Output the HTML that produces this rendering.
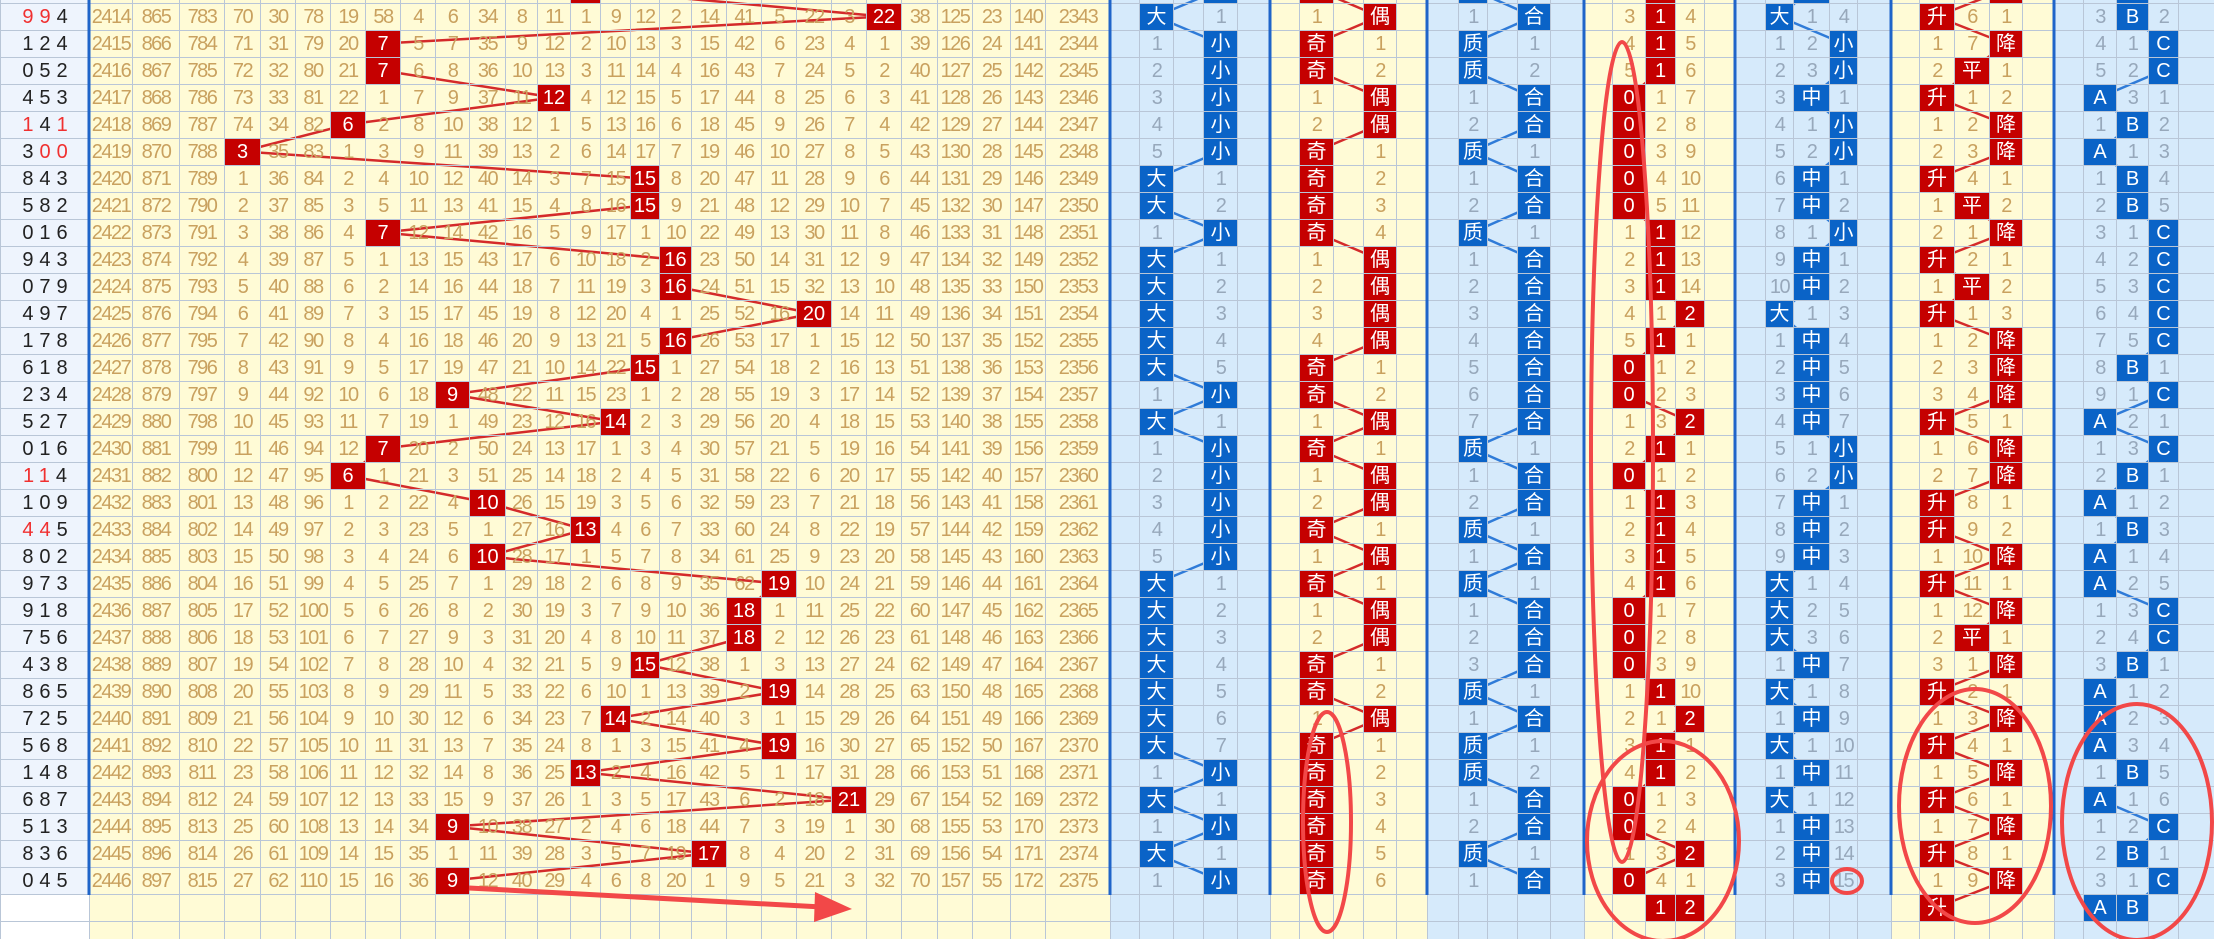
<!DOCTYPE html>
<html><head><meta charset="utf-8">
<style>
html,body{margin:0;padding:0;width:2214px;height:939px;overflow:hidden;background:#fff}
#wrap{position:relative;width:2214px;height:939px;overflow:hidden}
.bg{position:absolute;top:0;height:939px}
.y{background:#fffbd6}.u{background:#d6eafb}
table{position:absolute;left:0;top:-24px;border-collapse:collapse;table-layout:fixed;width:2214px;z-index:2;font-family:"Liberation Sans","Noto Sans CJK SC",sans-serif}
td{border:1px solid #b9c6d7;padding:0;height:26px;text-align:center;vertical-align:middle;font-size:20px;color:#c9a15f;letter-spacing:-1.5px;white-space:nowrap;overflow:hidden;line-height:26px}
tr{height:27px}
td.L{color:#222;letter-spacing:6px;font-size:20px;text-indent:6px}
td.L a{color:#f03030}
td:nth-child(n+30):nth-child(-n+34),td:nth-child(n+40):nth-child(-n+44),td:nth-child(n+50):nth-child(-n+54),td:nth-child(n+60):nth-child(-n+64){color:#97a8bb}
b,i{display:block;height:26px;line-height:26px;color:#fff;font-style:normal;font-weight:normal;letter-spacing:0}
b{background:#c50000}
i{background:#0a63c7}
svg{position:absolute;left:0;top:0}
</style></head><body><div id="wrap">
<div class="bg" style="left:0;width:89px;height:894px;background:#eef4fd"></div>
<div class="bg y" style="left:89px;width:1021px"></div>
<div class="bg u" style="left:1110px;width:160px"></div>
<div class="bg y" style="left:1270px;width:157px"></div>
<div class="bg u" style="left:1427px;width:157px"></div>
<div class="bg y" style="left:1584px;width:151px"></div>
<div class="bg u" style="left:1735px;width:156px"></div>
<div class="bg y" style="left:1891px;width:163px"></div>
<div class="bg u" style="left:2054px;width:160px"></div>
<svg width="2214" height="939" style="z-index:1" fill="none" stroke-width="2.5" stroke-linejoin="round">
<polyline stroke="#d42a2a" points="585,-10.5 883.5,16.5 382.5,43.5 382.5,70.5 553.5,97.5 347.5,124.5 242,151.5 644.5,178.5 644.5,205.5 382.5,232.5 675,259.5 675,286.5 813.5,313.5 675,340.5 644.5,367.5 452,394.5 615,421.5 382.5,448.5 347.5,475.5 487,502.5 585,529.5 487,556.5 778.5,583.5 743.5,610.5 743.5,637.5 644.5,664.5 778.5,691.5 615,718.5 778.5,745.5 585,772.5 848.5,799.5 452,826.5 708.5,853.5 452,880.5"/>
<polyline stroke="#2f7bd8" points="1220,-10.5 1156,16.5 1220,43.5 1220,70.5 1220,97.5 1220,124.5 1220,151.5 1156,178.5 1156,205.5 1220,232.5 1156,259.5 1156,286.5 1156,313.5 1156,340.5 1156,367.5 1220,394.5 1156,421.5 1220,448.5 1220,475.5 1220,502.5 1220,529.5 1220,556.5 1156,583.5 1156,610.5 1156,637.5 1156,664.5 1156,691.5 1156,718.5 1156,745.5 1220,772.5 1156,799.5 1220,826.5 1156,853.5 1220,880.5"/>
<polyline stroke="#d42a2a" points="1316,-10.5 1379.5,16.5 1316,43.5 1316,70.5 1379.5,97.5 1379.5,124.5 1316,151.5 1316,178.5 1316,205.5 1316,232.5 1379.5,259.5 1379.5,286.5 1379.5,313.5 1379.5,340.5 1316,367.5 1316,394.5 1379.5,421.5 1316,448.5 1379.5,475.5 1379.5,502.5 1316,529.5 1379.5,556.5 1316,583.5 1379.5,610.5 1379.5,637.5 1316,664.5 1316,691.5 1379.5,718.5 1316,745.5 1316,772.5 1316,799.5 1316,826.5 1316,853.5 1316,880.5"/>
<polyline stroke="#2f7bd8" points="1472.5,-10.5 1533.5,16.5 1472.5,43.5 1472.5,70.5 1533.5,97.5 1533.5,124.5 1472.5,151.5 1533.5,178.5 1533.5,205.5 1472.5,232.5 1533.5,259.5 1533.5,286.5 1533.5,313.5 1533.5,340.5 1533.5,367.5 1533.5,394.5 1533.5,421.5 1472.5,448.5 1533.5,475.5 1533.5,502.5 1472.5,529.5 1533.5,556.5 1472.5,583.5 1533.5,610.5 1533.5,637.5 1533.5,664.5 1472.5,691.5 1533.5,718.5 1472.5,745.5 1472.5,772.5 1533.5,799.5 1533.5,826.5 1472.5,853.5 1533.5,880.5"/>
<polyline stroke="#d42a2a" points="1660,-10.5 1660,16.5 1660,43.5 1660,70.5 1628.5,97.5 1628.5,124.5 1628.5,151.5 1628.5,178.5 1628.5,205.5 1660,232.5 1660,259.5 1660,286.5 1689.5,313.5 1660,340.5 1628.5,367.5 1628.5,394.5 1689.5,421.5 1660,448.5 1628.5,475.5 1660,502.5 1660,529.5 1660,556.5 1660,583.5 1628.5,610.5 1628.5,637.5 1628.5,664.5 1660,691.5 1689.5,718.5 1660,745.5 1660,772.5 1628.5,799.5 1628.5,826.5 1689.5,853.5 1628.5,880.5"/>
<polyline stroke="#2f7bd8" points="1811,-10.5 1779,16.5 1843,43.5 1843,70.5 1811,97.5 1843,124.5 1843,151.5 1811,178.5 1811,205.5 1843,232.5 1811,259.5 1811,286.5 1779,313.5 1811,340.5 1811,367.5 1811,394.5 1811,421.5 1843,448.5 1843,475.5 1811,502.5 1811,529.5 1811,556.5 1779,583.5 1779,610.5 1779,637.5 1811,664.5 1779,691.5 1811,718.5 1779,745.5 1811,772.5 1779,799.5 1811,826.5 1811,853.5 1811,880.5"/>
<polyline stroke="#d42a2a" points="2005.5,-10.5 1936.5,16.5 2005.5,43.5 1971.5,70.5 1936.5,97.5 2005.5,124.5 2005.5,151.5 1936.5,178.5 1971.5,205.5 2005.5,232.5 1936.5,259.5 1971.5,286.5 1936.5,313.5 2005.5,340.5 2005.5,367.5 2005.5,394.5 1936.5,421.5 2005.5,448.5 2005.5,475.5 1936.5,502.5 1936.5,529.5 2005.5,556.5 1936.5,583.5 2005.5,610.5 1971.5,637.5 2005.5,664.5 1936.5,691.5 2005.5,718.5 1936.5,745.5 2005.5,772.5 1936.5,799.5 2005.5,826.5 1936.5,853.5 2005.5,880.5 1936.5,907.5"/>
<polyline stroke="#2f7bd8" points="2132,-10.5 2132,16.5 2163,43.5 2163,70.5 2099.5,97.5 2132,124.5 2099.5,151.5 2132,178.5 2132,205.5 2163,232.5 2163,259.5 2163,286.5 2163,313.5 2163,340.5 2132,367.5 2163,394.5 2099.5,421.5 2163,448.5 2132,475.5 2099.5,502.5 2132,529.5 2099.5,556.5 2099.5,583.5 2163,610.5 2163,637.5 2132,664.5 2099.5,691.5 2099.5,718.5 2099.5,745.5 2132,772.5 2099.5,799.5 2163,826.5 2132,853.5 2163,880.5 2132,907.5"/>
</svg>
<table>
<colgroup><col style="width:89px"><col style="width:43px"><col style="width:47px"><col style="width:45px"><col style="width:36px"><col style="width:35px"><col style="width:35px"><col style="width:35px"><col style="width:35px"><col style="width:35px"><col style="width:34px"><col style="width:36px"><col style="width:32px"><col style="width:33px"><col style="width:30px"><col style="width:30px"><col style="width:29px"><col style="width:32px"><col style="width:35px"><col style="width:35px"><col style="width:35px"><col style="width:35px"><col style="width:35px"><col style="width:35px"><col style="width:36px"><col style="width:35px"><col style="width:38px"><col style="width:35px"><col style="width:65px"><col style="width:29px"><col style="width:34px"><col style="width:30px"><col style="width:34px"><col style="width:33px"><col style="width:29px"><col style="width:34px"><col style="width:30px"><col style="width:33px"><col style="width:31px"><col style="width:31px"><col style="width:29px"><col style="width:30px"><col style="width:33px"><col style="width:34px"><col style="width:28px"><col style="width:33px"><col style="width:30px"><col style="width:29px"><col style="width:31px"><col style="width:30px"><col style="width:28px"><col style="width:36px"><col style="width:28px"><col style="width:34px"><col style="width:28px"><col style="width:35px"><col style="width:35px"><col style="width:33px"><col style="width:32px"><col style="width:29px"><col style="width:33px"><col style="width:32px"><col style="width:30px"><col style="width:36px"></colgroup>
<tr><td class=L><td><td><td><td><td><td><td><td><td><td><td><td><td><td><b>&nbsp;</b><td><td><td><td><td><td><td><td><td><td><td><td><td><td><td><td><td><td><i>&nbsp;</i><td><td><td><b>&nbsp;</b><td><td><td><td><td><i>&nbsp;</i><td><td><td><td><td><td><b>&nbsp;</b><td><td><td><td><td><i>&nbsp;</i><td><td><td><td><td><td><b>&nbsp;</b><td><td><td><td><i>&nbsp;</i><td><td>
<tr><td class=L><a>9</a><a>9</a>4<td>2414<td>865<td>783<td>70<td>30<td>78<td>19<td>58<td>4<td>6<td>34<td>8<td>11<td>1<td>9<td>12<td>2<td>14<td>41<td>5<td>22<td>3<td><b>22</b><td>38<td>125<td>23<td>140<td>2343<td><td><i>大</i><td><td>1<td><td><td>1<td><td><b>偶</b><td><td><td>1<td><td><i>合</i><td><td><td>3<td><b>1</b><td>4<td><td><td><i>大</i><td>1<td>4<td><td><td><b>升</b><td>6<td>1<td><td><td>3<td><i>B</i><td>2<td>
<tr><td class=L>124<td>2415<td>866<td>784<td>71<td>31<td>79<td>20<td><b>7</b><td>5<td>7<td>35<td>9<td>12<td>2<td>10<td>13<td>3<td>15<td>42<td>6<td>23<td>4<td>1<td>39<td>126<td>24<td>141<td>2344<td><td>1<td><td><i>小</i><td><td><td><b>奇</b><td><td>1<td><td><td><i>质</i><td><td>1<td><td><td>4<td><b>1</b><td>5<td><td><td>1<td>2<td><i>小</i><td><td><td>1<td>7<td><b>降</b><td><td><td>4<td>1<td><i>C</i><td>
<tr><td class=L>052<td>2416<td>867<td>785<td>72<td>32<td>80<td>21<td><b>7</b><td>6<td>8<td>36<td>10<td>13<td>3<td>11<td>14<td>4<td>16<td>43<td>7<td>24<td>5<td>2<td>40<td>127<td>25<td>142<td>2345<td><td>2<td><td><i>小</i><td><td><td><b>奇</b><td><td>2<td><td><td><i>质</i><td><td>2<td><td><td>5<td><b>1</b><td>6<td><td><td>2<td>3<td><i>小</i><td><td><td>2<td><b>平</b><td>1<td><td><td>5<td>2<td><i>C</i><td>
<tr><td class=L>453<td>2417<td>868<td>786<td>73<td>33<td>81<td>22<td>1<td>7<td>9<td>37<td>11<td><b>12</b><td>4<td>12<td>15<td>5<td>17<td>44<td>8<td>25<td>6<td>3<td>41<td>128<td>26<td>143<td>2346<td><td>3<td><td><i>小</i><td><td><td>1<td><td><b>偶</b><td><td><td>1<td><td><i>合</i><td><td><td><b>0</b><td>1<td>7<td><td><td>3<td><i>中</i><td>1<td><td><td><b>升</b><td>1<td>2<td><td><td><i>A</i><td>3<td>1<td>
<tr><td class=L><a>1</a>4<a>1</a><td>2418<td>869<td>787<td>74<td>34<td>82<td><b>6</b><td>2<td>8<td>10<td>38<td>12<td>1<td>5<td>13<td>16<td>6<td>18<td>45<td>9<td>26<td>7<td>4<td>42<td>129<td>27<td>144<td>2347<td><td>4<td><td><i>小</i><td><td><td>2<td><td><b>偶</b><td><td><td>2<td><td><i>合</i><td><td><td><b>0</b><td>2<td>8<td><td><td>4<td>1<td><i>小</i><td><td><td>1<td>2<td><b>降</b><td><td><td>1<td><i>B</i><td>2<td>
<tr><td class=L>3<a>0</a><a>0</a><td>2419<td>870<td>788<td><b>3</b><td>35<td>83<td>1<td>3<td>9<td>11<td>39<td>13<td>2<td>6<td>14<td>17<td>7<td>19<td>46<td>10<td>27<td>8<td>5<td>43<td>130<td>28<td>145<td>2348<td><td>5<td><td><i>小</i><td><td><td><b>奇</b><td><td>1<td><td><td><i>质</i><td><td>1<td><td><td><b>0</b><td>3<td>9<td><td><td>5<td>2<td><i>小</i><td><td><td>2<td>3<td><b>降</b><td><td><td><i>A</i><td>1<td>3<td>
<tr><td class=L>843<td>2420<td>871<td>789<td>1<td>36<td>84<td>2<td>4<td>10<td>12<td>40<td>14<td>3<td>7<td>15<td><b>15</b><td>8<td>20<td>47<td>11<td>28<td>9<td>6<td>44<td>131<td>29<td>146<td>2349<td><td><i>大</i><td><td>1<td><td><td><b>奇</b><td><td>2<td><td><td>1<td><td><i>合</i><td><td><td><b>0</b><td>4<td>10<td><td><td>6<td><i>中</i><td>1<td><td><td><b>升</b><td>4<td>1<td><td><td>1<td><i>B</i><td>4<td>
<tr><td class=L>582<td>2421<td>872<td>790<td>2<td>37<td>85<td>3<td>5<td>11<td>13<td>41<td>15<td>4<td>8<td>16<td><b>15</b><td>9<td>21<td>48<td>12<td>29<td>10<td>7<td>45<td>132<td>30<td>147<td>2350<td><td><i>大</i><td><td>2<td><td><td><b>奇</b><td><td>3<td><td><td>2<td><td><i>合</i><td><td><td><b>0</b><td>5<td>11<td><td><td>7<td><i>中</i><td>2<td><td><td>1<td><b>平</b><td>2<td><td><td>2<td><i>B</i><td>5<td>
<tr><td class=L>016<td>2422<td>873<td>791<td>3<td>38<td>86<td>4<td><b>7</b><td>12<td>14<td>42<td>16<td>5<td>9<td>17<td>1<td>10<td>22<td>49<td>13<td>30<td>11<td>8<td>46<td>133<td>31<td>148<td>2351<td><td>1<td><td><i>小</i><td><td><td><b>奇</b><td><td>4<td><td><td><i>质</i><td><td>1<td><td><td>1<td><b>1</b><td>12<td><td><td>8<td>1<td><i>小</i><td><td><td>2<td>1<td><b>降</b><td><td><td>3<td>1<td><i>C</i><td>
<tr><td class=L>943<td>2423<td>874<td>792<td>4<td>39<td>87<td>5<td>1<td>13<td>15<td>43<td>17<td>6<td>10<td>18<td>2<td><b>16</b><td>23<td>50<td>14<td>31<td>12<td>9<td>47<td>134<td>32<td>149<td>2352<td><td><i>大</i><td><td>1<td><td><td>1<td><td><b>偶</b><td><td><td>1<td><td><i>合</i><td><td><td>2<td><b>1</b><td>13<td><td><td>9<td><i>中</i><td>1<td><td><td><b>升</b><td>2<td>1<td><td><td>4<td>2<td><i>C</i><td>
<tr><td class=L>079<td>2424<td>875<td>793<td>5<td>40<td>88<td>6<td>2<td>14<td>16<td>44<td>18<td>7<td>11<td>19<td>3<td><b>16</b><td>24<td>51<td>15<td>32<td>13<td>10<td>48<td>135<td>33<td>150<td>2353<td><td><i>大</i><td><td>2<td><td><td>2<td><td><b>偶</b><td><td><td>2<td><td><i>合</i><td><td><td>3<td><b>1</b><td>14<td><td><td>10<td><i>中</i><td>2<td><td><td>1<td><b>平</b><td>2<td><td><td>5<td>3<td><i>C</i><td>
<tr><td class=L>497<td>2425<td>876<td>794<td>6<td>41<td>89<td>7<td>3<td>15<td>17<td>45<td>19<td>8<td>12<td>20<td>4<td>1<td>25<td>52<td>16<td><b>20</b><td>14<td>11<td>49<td>136<td>34<td>151<td>2354<td><td><i>大</i><td><td>3<td><td><td>3<td><td><b>偶</b><td><td><td>3<td><td><i>合</i><td><td><td>4<td>1<td><b>2</b><td><td><td><i>大</i><td>1<td>3<td><td><td><b>升</b><td>1<td>3<td><td><td>6<td>4<td><i>C</i><td>
<tr><td class=L>178<td>2426<td>877<td>795<td>7<td>42<td>90<td>8<td>4<td>16<td>18<td>46<td>20<td>9<td>13<td>21<td>5<td><b>16</b><td>26<td>53<td>17<td>1<td>15<td>12<td>50<td>137<td>35<td>152<td>2355<td><td><i>大</i><td><td>4<td><td><td>4<td><td><b>偶</b><td><td><td>4<td><td><i>合</i><td><td><td>5<td><b>1</b><td>1<td><td><td>1<td><i>中</i><td>4<td><td><td>1<td>2<td><b>降</b><td><td><td>7<td>5<td><i>C</i><td>
<tr><td class=L>618<td>2427<td>878<td>796<td>8<td>43<td>91<td>9<td>5<td>17<td>19<td>47<td>21<td>10<td>14<td>22<td><b>15</b><td>1<td>27<td>54<td>18<td>2<td>16<td>13<td>51<td>138<td>36<td>153<td>2356<td><td><i>大</i><td><td>5<td><td><td><b>奇</b><td><td>1<td><td><td>5<td><td><i>合</i><td><td><td><b>0</b><td>1<td>2<td><td><td>2<td><i>中</i><td>5<td><td><td>2<td>3<td><b>降</b><td><td><td>8<td><i>B</i><td>1<td>
<tr><td class=L>234<td>2428<td>879<td>797<td>9<td>44<td>92<td>10<td>6<td>18<td><b>9</b><td>48<td>22<td>11<td>15<td>23<td>1<td>2<td>28<td>55<td>19<td>3<td>17<td>14<td>52<td>139<td>37<td>154<td>2357<td><td>1<td><td><i>小</i><td><td><td><b>奇</b><td><td>2<td><td><td>6<td><td><i>合</i><td><td><td><b>0</b><td>2<td>3<td><td><td>3<td><i>中</i><td>6<td><td><td>3<td>4<td><b>降</b><td><td><td>9<td>1<td><i>C</i><td>
<tr><td class=L>527<td>2429<td>880<td>798<td>10<td>45<td>93<td>11<td>7<td>19<td>1<td>49<td>23<td>12<td>16<td><b>14</b><td>2<td>3<td>29<td>56<td>20<td>4<td>18<td>15<td>53<td>140<td>38<td>155<td>2358<td><td><i>大</i><td><td>1<td><td><td>1<td><td><b>偶</b><td><td><td>7<td><td><i>合</i><td><td><td>1<td>3<td><b>2</b><td><td><td>4<td><i>中</i><td>7<td><td><td><b>升</b><td>5<td>1<td><td><td><i>A</i><td>2<td>1<td>
<tr><td class=L>016<td>2430<td>881<td>799<td>11<td>46<td>94<td>12<td><b>7</b><td>20<td>2<td>50<td>24<td>13<td>17<td>1<td>3<td>4<td>30<td>57<td>21<td>5<td>19<td>16<td>54<td>141<td>39<td>156<td>2359<td><td>1<td><td><i>小</i><td><td><td><b>奇</b><td><td>1<td><td><td><i>质</i><td><td>1<td><td><td>2<td><b>1</b><td>1<td><td><td>5<td>1<td><i>小</i><td><td><td>1<td>6<td><b>降</b><td><td><td>1<td>3<td><i>C</i><td>
<tr><td class=L><a>1</a><a>1</a>4<td>2431<td>882<td>800<td>12<td>47<td>95<td><b>6</b><td>1<td>21<td>3<td>51<td>25<td>14<td>18<td>2<td>4<td>5<td>31<td>58<td>22<td>6<td>20<td>17<td>55<td>142<td>40<td>157<td>2360<td><td>2<td><td><i>小</i><td><td><td>1<td><td><b>偶</b><td><td><td>1<td><td><i>合</i><td><td><td><b>0</b><td>1<td>2<td><td><td>6<td>2<td><i>小</i><td><td><td>2<td>7<td><b>降</b><td><td><td>2<td><i>B</i><td>1<td>
<tr><td class=L>109<td>2432<td>883<td>801<td>13<td>48<td>96<td>1<td>2<td>22<td>4<td><b>10</b><td>26<td>15<td>19<td>3<td>5<td>6<td>32<td>59<td>23<td>7<td>21<td>18<td>56<td>143<td>41<td>158<td>2361<td><td>3<td><td><i>小</i><td><td><td>2<td><td><b>偶</b><td><td><td>2<td><td><i>合</i><td><td><td>1<td><b>1</b><td>3<td><td><td>7<td><i>中</i><td>1<td><td><td><b>升</b><td>8<td>1<td><td><td><i>A</i><td>1<td>2<td>
<tr><td class=L><a>4</a><a>4</a>5<td>2433<td>884<td>802<td>14<td>49<td>97<td>2<td>3<td>23<td>5<td>1<td>27<td>16<td><b>13</b><td>4<td>6<td>7<td>33<td>60<td>24<td>8<td>22<td>19<td>57<td>144<td>42<td>159<td>2362<td><td>4<td><td><i>小</i><td><td><td><b>奇</b><td><td>1<td><td><td><i>质</i><td><td>1<td><td><td>2<td><b>1</b><td>4<td><td><td>8<td><i>中</i><td>2<td><td><td><b>升</b><td>9<td>2<td><td><td>1<td><i>B</i><td>3<td>
<tr><td class=L>802<td>2434<td>885<td>803<td>15<td>50<td>98<td>3<td>4<td>24<td>6<td><b>10</b><td>28<td>17<td>1<td>5<td>7<td>8<td>34<td>61<td>25<td>9<td>23<td>20<td>58<td>145<td>43<td>160<td>2363<td><td>5<td><td><i>小</i><td><td><td>1<td><td><b>偶</b><td><td><td>1<td><td><i>合</i><td><td><td>3<td><b>1</b><td>5<td><td><td>9<td><i>中</i><td>3<td><td><td>1<td>10<td><b>降</b><td><td><td><i>A</i><td>1<td>4<td>
<tr><td class=L>973<td>2435<td>886<td>804<td>16<td>51<td>99<td>4<td>5<td>25<td>7<td>1<td>29<td>18<td>2<td>6<td>8<td>9<td>35<td>62<td><b>19</b><td>10<td>24<td>21<td>59<td>146<td>44<td>161<td>2364<td><td><i>大</i><td><td>1<td><td><td><b>奇</b><td><td>1<td><td><td><i>质</i><td><td>1<td><td><td>4<td><b>1</b><td>6<td><td><td><i>大</i><td>1<td>4<td><td><td><b>升</b><td>11<td>1<td><td><td><i>A</i><td>2<td>5<td>
<tr><td class=L>918<td>2436<td>887<td>805<td>17<td>52<td>100<td>5<td>6<td>26<td>8<td>2<td>30<td>19<td>3<td>7<td>9<td>10<td>36<td><b>18</b><td>1<td>11<td>25<td>22<td>60<td>147<td>45<td>162<td>2365<td><td><i>大</i><td><td>2<td><td><td>1<td><td><b>偶</b><td><td><td>1<td><td><i>合</i><td><td><td><b>0</b><td>1<td>7<td><td><td><i>大</i><td>2<td>5<td><td><td>1<td>12<td><b>降</b><td><td><td>1<td>3<td><i>C</i><td>
<tr><td class=L>756<td>2437<td>888<td>806<td>18<td>53<td>101<td>6<td>7<td>27<td>9<td>3<td>31<td>20<td>4<td>8<td>10<td>11<td>37<td><b>18</b><td>2<td>12<td>26<td>23<td>61<td>148<td>46<td>163<td>2366<td><td><i>大</i><td><td>3<td><td><td>2<td><td><b>偶</b><td><td><td>2<td><td><i>合</i><td><td><td><b>0</b><td>2<td>8<td><td><td><i>大</i><td>3<td>6<td><td><td>2<td><b>平</b><td>1<td><td><td>2<td>4<td><i>C</i><td>
<tr><td class=L>438<td>2438<td>889<td>807<td>19<td>54<td>102<td>7<td>8<td>28<td>10<td>4<td>32<td>21<td>5<td>9<td><b>15</b><td>12<td>38<td>1<td>3<td>13<td>27<td>24<td>62<td>149<td>47<td>164<td>2367<td><td><i>大</i><td><td>4<td><td><td><b>奇</b><td><td>1<td><td><td>3<td><td><i>合</i><td><td><td><b>0</b><td>3<td>9<td><td><td>1<td><i>中</i><td>7<td><td><td>3<td>1<td><b>降</b><td><td><td>3<td><i>B</i><td>1<td>
<tr><td class=L>865<td>2439<td>890<td>808<td>20<td>55<td>103<td>8<td>9<td>29<td>11<td>5<td>33<td>22<td>6<td>10<td>1<td>13<td>39<td>2<td><b>19</b><td>14<td>28<td>25<td>63<td>150<td>48<td>165<td>2368<td><td><i>大</i><td><td>5<td><td><td><b>奇</b><td><td>2<td><td><td><i>质</i><td><td>1<td><td><td>1<td><b>1</b><td>10<td><td><td><i>大</i><td>1<td>8<td><td><td><b>升</b><td>2<td>1<td><td><td><i>A</i><td>1<td>2<td>
<tr><td class=L>725<td>2440<td>891<td>809<td>21<td>56<td>104<td>9<td>10<td>30<td>12<td>6<td>34<td>23<td>7<td><b>14</b><td>2<td>14<td>40<td>3<td>1<td>15<td>29<td>26<td>64<td>151<td>49<td>166<td>2369<td><td><i>大</i><td><td>6<td><td><td>1<td><td><b>偶</b><td><td><td>1<td><td><i>合</i><td><td><td>2<td>1<td><b>2</b><td><td><td>1<td><i>中</i><td>9<td><td><td>1<td>3<td><b>降</b><td><td><td><i>A</i><td>2<td>3<td>
<tr><td class=L>568<td>2441<td>892<td>810<td>22<td>57<td>105<td>10<td>11<td>31<td>13<td>7<td>35<td>24<td>8<td>1<td>3<td>15<td>41<td>4<td><b>19</b><td>16<td>30<td>27<td>65<td>152<td>50<td>167<td>2370<td><td><i>大</i><td><td>7<td><td><td><b>奇</b><td><td>1<td><td><td><i>质</i><td><td>1<td><td><td>3<td><b>1</b><td>1<td><td><td><i>大</i><td>1<td>10<td><td><td><b>升</b><td>4<td>1<td><td><td><i>A</i><td>3<td>4<td>
<tr><td class=L>148<td>2442<td>893<td>811<td>23<td>58<td>106<td>11<td>12<td>32<td>14<td>8<td>36<td>25<td><b>13</b><td>2<td>4<td>16<td>42<td>5<td>1<td>17<td>31<td>28<td>66<td>153<td>51<td>168<td>2371<td><td>1<td><td><i>小</i><td><td><td><b>奇</b><td><td>2<td><td><td><i>质</i><td><td>2<td><td><td>4<td><b>1</b><td>2<td><td><td>1<td><i>中</i><td>11<td><td><td>1<td>5<td><b>降</b><td><td><td>1<td><i>B</i><td>5<td>
<tr><td class=L>687<td>2443<td>894<td>812<td>24<td>59<td>107<td>12<td>13<td>33<td>15<td>9<td>37<td>26<td>1<td>3<td>5<td>17<td>43<td>6<td>2<td>18<td><b>21</b><td>29<td>67<td>154<td>52<td>169<td>2372<td><td><i>大</i><td><td>1<td><td><td><b>奇</b><td><td>3<td><td><td>1<td><td><i>合</i><td><td><td><b>0</b><td>1<td>3<td><td><td><i>大</i><td>1<td>12<td><td><td><b>升</b><td>6<td>1<td><td><td><i>A</i><td>1<td>6<td>
<tr><td class=L>513<td>2444<td>895<td>813<td>25<td>60<td>108<td>13<td>14<td>34<td><b>9</b><td>10<td>38<td>27<td>2<td>4<td>6<td>18<td>44<td>7<td>3<td>19<td>1<td>30<td>68<td>155<td>53<td>170<td>2373<td><td>1<td><td><i>小</i><td><td><td><b>奇</b><td><td>4<td><td><td>2<td><td><i>合</i><td><td><td><b>0</b><td>2<td>4<td><td><td>1<td><i>中</i><td>13<td><td><td>1<td>7<td><b>降</b><td><td><td>1<td>2<td><i>C</i><td>
<tr><td class=L>836<td>2445<td>896<td>814<td>26<td>61<td>109<td>14<td>15<td>35<td>1<td>11<td>39<td>28<td>3<td>5<td>7<td>19<td><b>17</b><td>8<td>4<td>20<td>2<td>31<td>69<td>156<td>54<td>171<td>2374<td><td><i>大</i><td><td>1<td><td><td><b>奇</b><td><td>5<td><td><td><i>质</i><td><td>1<td><td><td>1<td>3<td><b>2</b><td><td><td>2<td><i>中</i><td>14<td><td><td><b>升</b><td>8<td>1<td><td><td>2<td><i>B</i><td>1<td>
<tr><td class=L>045<td>2446<td>897<td>815<td>27<td>62<td>110<td>15<td>16<td>36<td><b>9</b><td>12<td>40<td>29<td>4<td>6<td>8<td>20<td>1<td>9<td>5<td>21<td>3<td>32<td>70<td>157<td>55<td>172<td>2375<td><td>1<td><td><i>小</i><td><td><td><b>奇</b><td><td>6<td><td><td>1<td><td><i>合</i><td><td><td><b>0</b><td>4<td>1<td><td><td>3<td><i>中</i><td>15<td><td><td>1<td>9<td><b>降</b><td><td><td>3<td>1<td><i>C</i><td>
<tr><td class=L style="background:#fff"><td><td><td><td><td><td><td><td><td><td><td><td><td><td><td><td><td><td><td><td><td><td><td><td><td><td><td><td><td><td><td><td><td><td><td><td><td><td><td><td><td><td><td><td><td><td><b>1</b><td><b>2</b><td><td><td><td><td><td><td><td><b>升</b><td><td><td><td><td><i>A</i><td><i>B</i><td><td>
<tr><td class=L style="background:#fff"><td><td><td><td><td><td><td><td><td><td><td><td><td><td><td><td><td><td><td><td><td><td><td><td><td><td><td><td><td><td><td><td><td><td><td><td><td><td><td><td><td><td><td><td><td><td><td><td><td><td><td><td><td><td><td><td><td><td><td><td><td><td><td><td>
</table>
<svg width="2214" height="939" style="z-index:3" fill="none">
<g stroke="#1f64c9" stroke-width="3">
<line x1="89" y1="0" x2="89" y2="895"/><line x1="1110" y1="0" x2="1110" y2="895"/><line x1="1270" y1="0" x2="1270" y2="895"/><line x1="1427" y1="0" x2="1427" y2="895"/><line x1="1584" y1="0" x2="1584" y2="895"/><line x1="1735" y1="0" x2="1735" y2="895"/><line x1="1891" y1="0" x2="1891" y2="895"/><line x1="2054" y1="0" x2="2054" y2="895"/>
</g>
<g stroke="#f24848" stroke-width="4">
<ellipse cx="1622" cy="452" rx="31" ry="410"/>
<ellipse cx="1663" cy="841" rx="76" ry="100"/>
<ellipse cx="1327" cy="822" rx="24" ry="110"/>
<ellipse cx="1847" cy="881" rx="15" ry="12"/>
<ellipse cx="1975" cy="806" rx="76" ry="117"/>
<ellipse cx="2137" cy="822" rx="75" ry="118"/>
<line x1="469" y1="888" x2="822" y2="907" stroke-width="5"/>
</g>
<polygon points="815,892 852,909 814,922" fill="#f24848"/>
</svg>
</div></body></html>
